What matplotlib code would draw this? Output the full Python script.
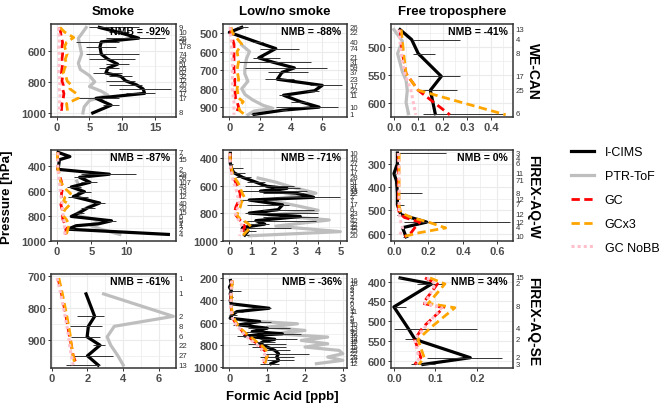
import numpy as np
import matplotlib
matplotlib.use("Agg")
import matplotlib.pyplot as plt
from matplotlib.ticker import AutoMinorLocator
from matplotlib.lines import Line2D

plt.rcParams["font.family"] = ["Liberation Sans", "DejaVu Sans"]

nan = np.nan

# ---------------- WE-CAN, smoke ----------------
wcs_p = [450, 482, 519, 543, 575, 622, 654, 686, 712, 743, 765, 793, 820, 846, 874, 906, 950, 1000]
wcs_icims = [6.5, 9.5, 12.5, 6.8, 6.6, 6.8, 7.8, 9.3, 7.8, 7.5, 9.8, 10.5, 12.2, 13.2, 13.4, 6.0, 8.3, 5.5]
wcs_lo = [5.0, 8.0, 7.5, 3.0, 4.5, 4.5, 5.0, 7.5, 6.5, 5.5, 8.0, 7.5, 8.0, 9.5, 10.5, 3.0, 7.0, 5.5]
wcs_hi = [12.5, 11.0, 16.5, 9.5, 9.0, 12.5, 12.0, 11.0, 9.5, 10.0, 11.5, 12.0, 13.0, 17.5, 15.0, 9.5, 9.5, 5.5]
wcs_n = ["9", "10", "26", "58", "178", "74", "36", "51", "65", "62", "32", "12", "20", "23", "17", "17", "", "8"]
wcs_ptr_p = [450, 480, 520, 560, 620, 680, 720, 760, 800, 830, 860, 885, 920, 960, 1000]
wcs_ptr = [4.5, 4.0, 3.3, 3.5, 3.8, 3.3, 3.6, 5.0, 5.8, 5.0, 6.8, 7.8, 5.0, 4.2, 4.0]
wcs_mod_p = [450, 480, 515, 545, 575, 620, 655, 685, 715, 745, 765, 795, 820, 845, 875, 905, 940, 1000]
wcs_gc = [0.4, 0.6, 0.7, 0.9, 0.8, 0.9, 0.8, 0.9, 0.8, 0.7, 0.9, 0.8, 1.0, 0.9, 1.1, 1.0, 0.8, 0.7]
wcs_gcx3 = [0.5, 1.2, 2.6, 1.5, 1.2, 1.6, 1.3, 1.5, 1.2, 1.0, 1.4, 1.6, 2.2, 2.0, 3.0, 3.3, 1.5, 1.7]
wcs_nobb = [0.3, 0.3, 0.4, 0.4, 0.3, 0.4, 0.4, 0.4, 0.3, 0.3, 0.4, 0.4, 0.5, 0.4, 0.5, 0.5, 0.4, 0.4]

# ---------------- WE-CAN, low/no smoke ----------------
wcl_p = [470, 497, 550, 584, 634, 657, 688, 712, 749, 782, 811, 835, 870, 899, 915, 938]
wcl_icims = [0.8, 0.0, 1.8, 3.0, 1.9, 2.8, 4.2, 3.4, 3.1, 6.0, 5.5, 3.5, 4.6, 5.8, 3.5, 1.6]
wcl_lo = [0.5, 0.0, 1.5, 2.0, 1.5, 0.5, 1.0, 2.5, 2.3, 5.2, 5.0, 3.2, 4.0, 3.0, 3.3, 1.4]
wcl_hi = [1.2, 0.1, 2.2, 4.5, 3.3, 5.3, 6.3, 5.1, 4.2, 7.3, 5.8, 3.8, 5.0, 7.0, 3.7, 1.8]
wcl_n = ["26", "22", "40", "74", "21", "31", "59", "37", "23", "17", "22", "11", "", "10", "", "1"]
wcl_ptr_p = [565, 600, 640, 690, 720, 760, 800, 830, 860, 890, 905, 920, 940]
wcl_ptr = [0.8, 1.3, 1.1, 1.0, 1.0, 1.2, 0.8, 1.0, 1.5, 2.2, 2.8, 1.6, 1.2]
wcl_mod_p = [470, 500, 530, 560, 600, 650, 700, 750, 800, 850, 870, 900, 920, 940]
wcl_gc = [0.1, 0.1, 0.2, 0.3, 0.3, 0.3, 0.3, 0.35, 0.35, 0.4, 0.5, 0.6, 0.5, 0.6]
wcl_gcx3 = [0.1, 0.2, 0.5, 0.8, 0.5, 0.6, 0.5, 0.6, 0.5, 0.6, 0.9, 0.6, 0.7, 1.0]
wcl_nobb = [0.05, 0.05, 0.1, 0.15, 0.15, 0.2, 0.2, 0.2, 0.2, 0.25, 0.3, 0.3, 0.3, 0.3]

# ---------------- WE-CAN, free troposphere ----------------
wcf_p = [469, 487, 512, 553, 578, 620]
wcf_icims = [0.025, 0.073, 0.1, 0.195, 0.15, 0.17]
wcf_lo = [0.025, 0.08, 0.078, 0.1, 0.1, 0.12]
wcf_hi = [0.025, 0.27, 0.17, 0.27, 0.26, 0.45]
wcf_n = ["13", "4", "8", "17", "25", "6"]
wcf_ptr_p = [469, 490, 512, 545, 560, 578, 600, 620]
wcf_ptr = [0.0, 0.035, 0.015, 0.035, 0.05, 0.055, 0.05, 0.06]
wcf_mod_p = [469, 512, 548, 578, 622]
wcf_gc = [0.025, 0.035, 0.05, 0.1, 0.23]
wcf_gcx3 = [0.03, 0.04, 0.05, 0.1, 0.46]
wcf_nobb = [0.02, 0.03, 0.045, 0.07, 0.09]

# ---------------- FIREX-AQ-W, smoke ----------------
fws_p = [289, 323, 348, 426, 465, 490, 530, 568, 606, 645, 697, 735, 774, 805, 840, 865, 880, 908, 950]
fws_icims = [0.2, 1.9, 0.4, 0.2, 7.6, 3.3, 4.8, 2.1, 4.0, 2.4, 6.2, 4.5, 3.3, 2.1, 7.9, 6.0, 2.8, 1.6, 16.1]
fws_lo = [0.2, 1.9, 0.4, 0.2, 3.5, 2.5, 3.5, 1.5, 3.0, 1.7, 5.5, 3.5, 2.8, 2.1, 7.2, 6.0, 2.8, 1.0, 16.1]
fws_hi = [0.2, 1.9, 0.4, 0.2, 11.4, 4.5, 5.8, 3.5, 5.0, 4.5, 7.0, 5.5, 4.0, 2.1, 8.6, 6.0, 2.8, 2.5, 16.1]
fws_n = ["7", "2", "15", "2", "29", "59", "107", "43", "13", "12", "40", "20", "15", "6", "5", "2", "1", "2", "4"]
fws_ptr_p = [520, 560, 606, 645, 697, 735, 774, 805, 840, 865, 880, 910, 950]
fws_ptr = [2.9, 3.2, 3.6, 3.0, 5.8, 4.3, 3.1, 3.6, 6.5, 5.2, 5.0, 6.5, 9.1]
fws_mod_p = [289, 330, 380, 430, 490, 530, 560, 590, 620, 650, 680, 710, 750, 790, 830, 870, 910, 950]
fws_gc = [0.2, 0.1, 0.1, 0.2, 0.5, 0.7, 0.6, 0.8, 0.7, 0.7, 0.8, 0.6, 0.8, 0.8, 0.9, 1.2, 1.4, 1.2]
fws_gcx3 = [0.1, 0.1, 0.1, 0.2, 0.4, 0.6, 1.0, 1.4, 2.0, 1.2, 1.0, 1.9, 1.2, 0.8, 1.4, 1.8, 1.6, 1.4]
fws_nobb = [0.2, 0.15, 0.15, 0.2, 0.3, 0.4, 0.45, 0.5, 0.6, 0.65, 0.7, 0.8, 0.85, 0.9, 1.0, 1.1, 1.15, 1.2]

# ---------------- FIREX-AQ-W, low/no smoke ----------------
fwl_p = [365, 400, 440, 470, 505, 540, 575, 605, 620, 640, 655, 685, 705, 740, 775, 800, 825, 855, 880, 905, 930, 960]
fwl_icims = [0.05, 0.05, 0.05, 0.1, 0.2, 0.6, 1.2, 1.7, 2.6, 1.4, 3.0, 3.8, 0.9, 2.4, 2.2, 0.9, 3.2, 1.2, 1.6, 0.6, 0.85, 0.7]
fwl_lo = [0.05, 0.05, 0.0, 0.0, 0.1, 0.3, 0.8, 0.7, 2.0, 0.5, 1.5, 2.2, 0.5, 0.8, 1.5, 0.7, 1.5, 0.6, 0.8, 0.5, 0.6, 0.7]
fwl_hi = [0.05, 0.1, 0.15, 0.6, 0.7, 1.0, 1.6, 2.9, 3.2, 3.5, 3.3, 5.0, 1.5, 2.7, 3.8, 4.0, 4.0, 3.9, 1.8, 2.8, 1.2, 0.9]
fwl_n = ["10", "16", "27", "17", "17", "28", "51", "31", "21", "13", "22", "7", "7", "17", "6", "23", "8", "42", "32", "12", "25", "20"]
fwl_ptr_p = [545, 575, 610, 655, 705, 745, 780, 815, 850, 895, 935, 965]
fwl_ptr = [1.3, 2.1, 2.8, 3.9, 1.7, 3.0, 4.0, 1.8, 4.5, 2.1, 5.0, 0.9]
fwl_mod_p = [365, 420, 470, 510, 545, 580, 620, 660, 690, 720, 755, 790, 815, 845, 870, 900, 930, 965]
fwl_gc = [0.03, 0.05, 0.08, 0.12, 0.2, 0.3, 0.4, 0.5, 0.45, 0.4, 0.3, 0.25, 0.3, 0.45, 0.6, 0.7, 0.6, 0.5]
fwl_gcx3 = [0.03, 0.05, 0.1, 0.15, 0.25, 0.4, 0.5, 0.6, 0.7, 0.55, 0.5, 0.4, 0.35, 0.5, 0.8, 1.0, 0.8, 0.6]
fwl_nobb = [0.02, 0.04, 0.06, 0.1, 0.15, 0.2, 0.3, 0.35, 0.4, 0.45, 0.4, 0.3, 0.3, 0.4, 0.5, 0.6, 0.55, 0.45]

# ---------------- FIREX-AQ-W, free troposphere ----------------
fwf_p = [254, 276, 300, 342, 373, 427, 455, 476, 518, 550, 574, 613]
fwf_icims = [0.02, 0.02, 0.02, 0.0, 0.015, 0.02, 0.02, 0.02, 0.04, 0.19, 0.05, 0.07]
fwf_lo = [0.02, 0.01, 0.02, 0.0, 0.015, 0.02, 0.02, 0.02, 0.02, 0.06, 0.04, 0.05]
fwf_hi = [0.3, 0.03, 0.03, 0.01, 0.015, 0.16, 0.02, 0.06, 0.05, 0.67, 0.06, 0.08]
fwf_n = ["3", "4", "6", "11", "71", "8", "12", "7", "12", "12", "4", "10"]
fwf_mod_p = [254, 300, 400, 480, 510, 530, 550, 575, 595, 613]
fwf_gc = [0.025, 0.025, 0.025, 0.025, 0.03, 0.06, 0.15, 0.12, 0.1, 0.06]
fwf_gcx3 = [0.03, 0.03, 0.03, 0.03, 0.04, 0.1, 0.2, 0.3, 0.15, 0.05]
fwf_nobb = [0.025, 0.03, 0.03, 0.03, 0.03, 0.035, 0.04, 0.05, 0.04, 0.03]

# ---------------- FIREX-AQ-SE, smoke ----------------
fss_p = [706, 755, 825, 856, 889, 915, 948, 977]
fss_icims = [nan, 1.92, 2.4, 2.05, 1.98, 2.7, 2.0, 2.6]
fss_lo = [nan, 1.92, 1.4, 1.0, 1.1, 2.3, 1.2, 0.8]
fss_hi = [nan, 1.92, 2.9, 2.8, 2.7, 2.98, 3.4, 2.7]
fss_n = ["1", "1", "2", "8", "6", "22", "27", "13"]
fss_ptr_p = [755, 825, 856, 889, 915, 948, 977]
fss_ptr = [2.9, 6.8, 3.5, 3.1, 3.3, 3.7, 4.0]
fss_mod_p = [706, 755, 825, 856, 889, 915, 948, 977]
fss_gc = [0.35, 0.55, 0.8, 0.9, 1.0, 1.1, 1.2, 1.4]
fss_gcx3 = [0.4, 0.6, 0.85, 0.95, 1.05, 1.1, 1.2, 1.3]
fss_nobb = [0.3, 0.5, 0.75, 0.85, 0.95, 1.0, 1.1, 1.2]

# ---------------- FIREX-AQ-SE, low/no smoke ----------------
fsl_p = [220, 250, 280, 310, 340, 370, 400, 430, 470, 500, 530, 560, 590, 620, 650, 680, 700, 720, 750, 770, 790, 820, 850, 880, 910, 940, 970]
fsl_icims = [0.03, 0.05, 0.0, 0.05, 0.02, 0.05, 0.02, 0.05, 1.05, 0.2, 0.07, 0.02, 0.8, 0.25, 1.0, 0.6, 1.4, 0.4, 1.2, 0.9, 0.8, 1.0, 1.2, 1.3, 1.25, 1.3, 1.1]
fsl_lo = [0.0, 0.0, 0.0, 0.0, 0.0, 0.0, 0.0, 0.0, 0.6, 0.1, 0.0, 0.0, 0.4, 0.1, 0.5, 0.3, 0.9, 0.2, 0.8, 0.6, 0.5, 0.6, 0.8, 0.9, 0.8, 1.0, 0.8]
fsl_hi = [0.05, 0.1, 0.05, 0.3, 0.05, 0.1, 0.05, 0.15, 1.1, 0.35, 0.2, 0.1, 1.1, 0.5, 1.6, 0.9, 1.9, 0.7, 1.8, 1.2, 1.5, 1.5, 1.6, 2.1, 1.7, 1.7, 1.3]
fsl_n = ["16", "18", "8", "3", "5", "4", "2", "6", "9", "11", "7", "5", "8", "10", "13", "9", "12", "16", "14", "15", "11", "19", "25", "22", "28", "17", "12"]
fsl_ptr_p = [580, 610, 640, 670, 700, 730, 760, 790, 820, 850, 880, 910, 940, 970]
fsl_ptr = [0.3, 1.8, 1.0, 2.0, 1.2, 2.6, 1.9, 2.6, 2.0, 2.9, 3.0, 2.6, 3.0, 2.3]
fsl_mod_p = [220, 260, 300, 350, 400, 450, 500, 540, 580, 620, 660, 700, 740, 780, 820, 860, 900, 940, 975]
fsl_gc = [0.07, 0.06, 0.05, 0.04, 0.04, 0.04, 0.06, 0.08, 0.12, 0.2, 0.3, 0.4, 0.55, 0.7, 0.85, 0.95, 1.0, 0.95, 0.9]
fsl_gcx3 = [0.08, 0.07, 0.06, 0.05, 0.05, 0.05, 0.07, 0.1, 0.15, 0.22, 0.32, 0.45, 0.6, 0.75, 0.9, 1.0, 1.0, 0.95, 0.95]
fsl_nobb = [0.06, 0.05, 0.05, 0.04, 0.04, 0.04, 0.05, 0.07, 0.1, 0.18, 0.28, 0.38, 0.5, 0.65, 0.8, 0.9, 0.95, 0.9, 0.85]

# ---------------- FIREX-AQ-SE, free troposphere ----------------
fsf_p = [391, 406, 464, 519, 546, 592, 609]
fsf_icims = [0.015, 0.091, 0.0, 0.035, 0.051, 0.184, 0.07]
fsf_lo = [0.01, 0.055, 0.0, 0.0, 0.027, 0.08, 0.04]
fsf_hi = [0.02, 0.12, 0.03, 0.2, 0.063, 0.26, 0.1]
fsf_n = ["15", "2", "8", "4", "2", "2", "3"]
fsf_mod_p = [391, 406, 455, 466, 515, 546, 592, 609]
fsf_gc = [0.075, 0.105, 0.07, 0.12, 0.07, 0.05, 0.065, 0.05]
fsf_gcx3 = [0.087, 0.123, 0.083, 0.147, 0.09, 0.058, 0.073, 0.06]
fsf_nobb = [0.08, 0.1, 0.075, 0.115, 0.075, 0.05, 0.06, 0.055]

col_titles = ["Smoke", "Low/no smoke", "Free troposphere"]
row_titles = ["WE-CAN", "FIREX-AQ-W", "FIREX-AQ-SE"]
nmb = [["-92%", "-88%", "-41%"], ["-87%", "-71%", "0%"], ["-61%", "-36%", "34%"]]

panels = [
    [dict(p=wcs_p, ic=wcs_icims, lo=wcs_lo, hi=wcs_hi, n=wcs_n, pp=wcs_ptr_p, ptr=wcs_ptr,
          mp=wcs_mod_p, gc=wcs_gc, gc3=wcs_gcx3, nobb=wcs_nobb,
          xlim=(-0.87, 18.2), ylim=(1026, 428), xt=[0, 5, 10, 15], yt=[600, 800, 1000], fmt="%g"),
     dict(p=wcl_p, ic=wcl_icims, lo=wcl_lo, hi=wcl_hi, n=wcl_n, pp=wcl_ptr_p, ptr=wcl_ptr,
          mp=wcl_mod_p, gc=wcl_gc, gc3=wcl_gcx3, nobb=wcl_nobb,
          xlim=(-0.41, 7.6), ylim=(952, 452), xt=[0, 2, 4, 6], yt=[500, 600, 700, 800, 900], fmt="%g"),
     dict(p=wcf_p, ic=wcf_icims, lo=wcf_lo, hi=wcf_hi, n=wcf_n, pp=wcf_ptr_p, ptr=wcf_ptr,
          mp=wcf_mod_p, gc=wcf_gc, gc3=wcf_gcx3, nobb=wcf_nobb,
          xlim=(-0.012, 0.49), ylim=(626, 459), xt=[0, 0.1, 0.2, 0.3, 0.4], yt=[500, 550, 600], fmt="%.1f")],
    [dict(p=fws_p, ic=fws_icims, lo=fws_lo, hi=fws_hi, n=fws_n, pp=fws_ptr_p, ptr=fws_ptr,
          mp=fws_mod_p, gc=fws_gc, gc3=fws_gcx3, nobb=fws_nobb,
          xlim=(-0.82, 17.2), ylim=(1003, 270), xt=[0, 5, 10], yt=[400, 600, 800, 1000], fmt="%g"),
     dict(p=fwl_p, ic=fwl_icims, lo=fwl_lo, hi=fwl_hi, n=fwl_n, pp=fwl_ptr_p, ptr=fwl_ptr,
          mp=fwl_mod_p, gc=fwl_gc, gc3=fwl_gcx3, nobb=fwl_nobb,
          xlim=(-0.28, 5.3), ylim=(1003, 341), xt=[0, 1, 2, 3, 4, 5], yt=[400, 600, 800, 1000], fmt="%g"),
     dict(p=fwf_p, ic=fwf_icims, lo=fwf_lo, hi=fwf_hi, n=fwf_n, pp=None, ptr=None,
          mp=fwf_mod_p, gc=fwf_gc, gc3=fwf_gcx3, nobb=fwf_nobb,
          xlim=(-0.017, 0.69), ylim=(631, 241), xt=[0, 0.2, 0.4, 0.6], yt=[300, 400, 500, 600], fmt="%.1f")],
    [dict(p=fss_p, ic=fss_icims, lo=fss_lo, hi=fss_hi, n=fss_n, pp=fss_ptr_p, ptr=fss_ptr,
          mp=fss_mod_p, gc=fss_gc, gc3=fss_gcx3, nobb=fss_nobb,
          xlim=(-0.04, 6.95), ylim=(986, 693), xt=[0, 2, 4, 6], yt=[700, 800, 900], fmt="%g"),
     dict(p=fsl_p, ic=fsl_icims, lo=fsl_lo, hi=fsl_hi, n=fsl_n, pp=fsl_ptr_p, ptr=fsl_ptr,
          mp=fsl_mod_p, gc=fsl_gc, gc3=fsl_gcx3, nobb=fsl_nobb,
          xlim=(-0.17, 3.11), ylim=(1009, 161), xt=[0, 1, 2, 3], yt=[200, 400, 600, 800, 1000], fmt="%g"),
     dict(p=fsf_p, ic=fsf_icims, lo=fsf_lo, hi=fsf_hi, n=fsf_n, pp=None, ptr=None,
          mp=fsf_mod_p, gc=fsf_gc, gc3=fsf_gcx3, nobb=fsf_nobb,
          xlim=(-0.007, 0.287), ylim=(618, 381), xt=[0, 0.1, 0.2], yt=[400, 450, 500, 550, 600], fmt="%.1f")],
]

W, H = 661, 406
cols_px = [(51, 176), (223, 347), (391, 513)]
rows_px = [(25, 118), (151, 242), (275, 369)]

C_ICIMS = "black"
C_PTR = "#BEBEBE"
C_GC = "#FF0000"
C_GC3 = "#FFA500"
C_NOBB = "#FFC0CB"
GC_DASH = (0, (3, 1.6))
NOBB_DOT = (0, (1, 1))

fig = plt.figure(figsize=(W / 100, H / 100), dpi=100)

for r in range(3):
    for c in range(3):
        d = panels[r][c]
        x0, x1 = cols_px[c]
        y0, y1 = rows_px[r]
        ax = fig.add_axes([x0 / W, 1 - y1 / H, (x1 - x0) / W, (y1 - y0) / H])

        if d["ptr"] is not None:
            ax.plot(d["ptr"], d["pp"], color=C_PTR, lw=2.3, zorder=2)
        ax.plot(d["ic"], d["p"], color=C_ICIMS, lw=2.3, zorder=3)
        ax.hlines(d["p"], d["lo"], d["hi"], color="#333333", lw=0.7, zorder=4)
        ax.plot(d["gc"], d["mp"], color=C_GC, lw=2.0, ls=GC_DASH, zorder=5)
        ax.plot(d["gc3"], d["mp"], color=C_GC3, lw=2.0, ls=GC_DASH, zorder=5)
        ax.plot(d["nobb"], d["mp"], color=C_NOBB, lw=2.2, ls=NOBB_DOT, zorder=5)

        ax.set_xlim(*d["xlim"])
        ax.set_ylim(*d["ylim"])
        ax.set_xticks(d["xt"])
        ax.set_xticklabels([d["fmt"] % v for v in d["xt"]])
        ax.set_yticks(d["yt"])
        ax.xaxis.set_minor_locator(AutoMinorLocator(2))
        ax.yaxis.set_minor_locator(AutoMinorLocator(2))
        ax.grid(which="major", color="#EBEBEB", lw=0.8)
        ax.grid(which="minor", color="#EBEBEB", lw=0.5)
        ax.set_axisbelow(True)
        ax.tick_params(which="major", direction="out", length=2.5, width=0.7,
                       color="#333333", labelsize=8, labelcolor="#4D4D4D", pad=1)
        ax.tick_params(which="minor", length=0)
        for lab in ax.get_xticklabels() + ax.get_yticklabels():
            lab.set_fontweight("bold")
        for s in ax.spines.values():
            s.set_color("#333333")
            s.set_linewidth(1.1)

        ax.text(0.955, 0.975, "NMB = " + nmb[r][c], transform=ax.transAxes,
                ha="right", va="top", fontsize=7.5, fontweight="bold", zorder=6)

        # sample counts per pressure bin, just right of the frame
        ytr = ax.get_yaxis_transform()
        for p, n in zip(d["p"], d["n"]):
            if n:
                ax.annotate(n, xy=(1, p), xycoords=ytr, xytext=(2, 0),
                            textcoords="offset points", fontsize=5.6,
                            va="center", ha="left", color="#333333",
                            annotation_clip=False)

        if r == 0:
            ax.set_title(col_titles[c], fontsize=9.5, fontweight="bold", pad=7)
        if c == 2:
            fig.text(533 / W, 1 - ((y0 + y1) / 2) / H, row_titles[r], rotation=-90,
                     ha="center", va="center", fontsize=10, fontweight="bold")

fig.text(7 / W, 1 - 197 / H, "Pressure [hPa]", rotation=90, ha="center", va="center",
         fontsize=9.5, fontweight="bold")
fig.text(282 / W, 1 - 397 / H, "Formic Acid [ppb]", ha="center", va="center",
         fontsize=9.5, fontweight="bold")

handles = [
    Line2D([], [], color=C_ICIMS, lw=2.3),
    Line2D([], [], color=C_PTR, lw=2.3),
    Line2D([], [], color=C_GC, lw=2.0, ls=GC_DASH),
    Line2D([], [], color=C_GC3, lw=2.0, ls=GC_DASH),
    Line2D([], [], color=C_NOBB, lw=2.2, ls=NOBB_DOT),
]
labels = ["I-CIMS", "PTR-ToF", "GC", "GCx3", "GC NoBB"]
fig.legend(handles, labels, loc="center left", bbox_to_anchor=(571 / W, 1 - 201 / H),
           frameon=False, fontsize=9, handlelength=1.8, handletextpad=0.9,
           labelspacing=0.95, borderpad=0, borderaxespad=0)

fig.savefig("out.png", dpi=100)
